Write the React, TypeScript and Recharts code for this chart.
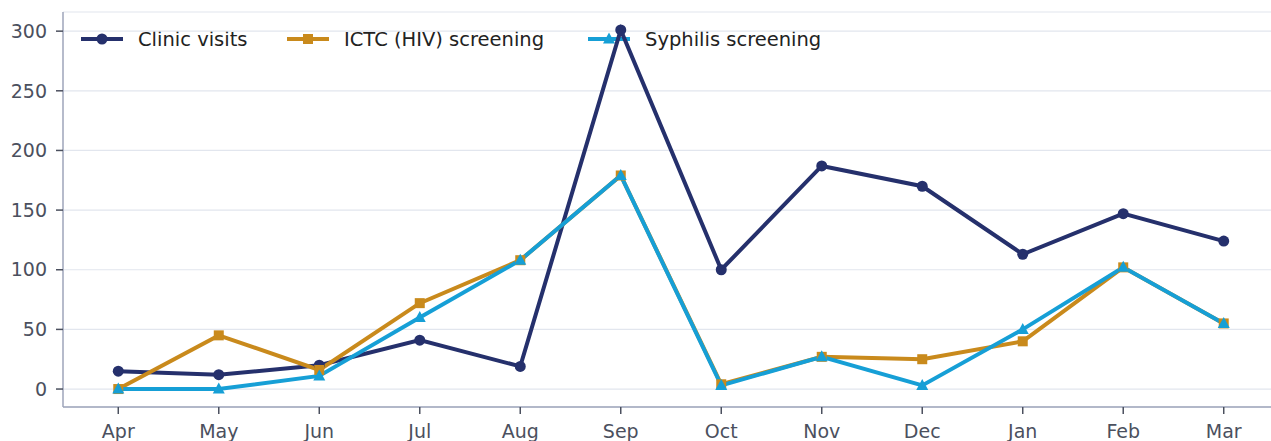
import { LineChart, Line, XAxis, YAxis, CartesianGrid } from 'recharts'

const months = ['Apr', 'May', 'Jun', 'Jul', 'Aug', 'Sep', 'Oct', 'Nov', 'Dec', 'Jan', 'Feb', 'Mar']
const clinicVisits = [15, 12, 20, 41, 19, 301, 100, 187, 170, 113, 147, 124]
const ictcScreening = [0, 45, 16, 72, 108, 179, 4, 27, 25, 40, 102, 55]
const syphilisScreening = [0, 0, 11, 60, 108, 179, 3, 27, 3, 50, 102, 55]
const yTicks = [0, 50, 100, 150, 200, 250, 300]

const data = months.map((m, i) => ({
  idx: i,
  month: m,
  clinic: clinicVisits[i],
  ictc: ictcScreening[i],
  syphilis: syphilisScreening[i],
}))

const NAVY = '#25306c'
const GOLD = '#c98a1c'
const CYAN = '#169fd6'
const FONT = '"DejaVu Sans", sans-serif'

type Shape = 'circle' | 'square' | 'triangle'

const Marker = ({ cx, cy, color, shape }: { cx: number; cy: number; color: string; shape: Shape }) => {
  if (cx == null || cy == null) return null
  if (shape === 'square') return <rect x={cx - 5} y={cy - 5} width={10} height={10} fill={color} />
  if (shape === 'triangle')
    return <polygon points={`${cx},${cy - 6.5} ${cx - 6},${cy + 4.5} ${cx + 6},${cy + 4.5}`} fill={color} />
  return <circle cx={cx} cy={cy} r={5.5} fill={color} />
}

const dotFor = (color: string, shape: Shape) => (props: any) => (
  <Marker key={`${shape}-${props.index}`} cx={props.cx} cy={props.cy} color={color} shape={shape} />
)

const legendItems: { name: string; color: string; shape: Shape; x: number }[] = [
  { name: 'Clinic visits', color: NAVY, shape: 'circle', x: 0 },
  { name: 'ICTC (HIV) screening', color: GOLD, shape: 'square', x: 206 },
  { name: 'Syphilis screening', color: CYAN, shape: 'triangle', x: 507 },
]

// drawn under the chart so the Sep point sits on top, like the original
const ChartLegend = () => (
  <svg width={800} height={30} style={{ position: 'absolute', left: 81, top: 25, overflow: 'visible' }}>
    {legendItems.map(it => (
      <g key={it.name} transform={`translate(${it.x},0)`}>
        <line x1={0} x2={42} y1={14} y2={14} stroke={it.color} strokeWidth={4} />
        <Marker cx={21} cy={14} color={it.color} shape={it.shape} />
        <text x={57} y={14} dy="0.35em" fontSize={19.5} fill="#222" fontFamily={FONT}>
          {it.name}
        </text>
      </g>
    ))}
  </svg>
)

export default function App() {
  return (
    <div style={{ position: 'absolute', left: 0, top: 0, width: 1271, height: 441, overflow: 'hidden', background: '#fff' }}>
      <ChartLegend />
      <div style={{ position: 'absolute', left: 0, top: 0 }}>
        <LineChart width={1300} height={470} data={data} margin={{ top: 12, right: 21, bottom: 0, left: 0 }}>
          <CartesianGrid horizontal vertical={false} stroke="#e2e6ee" strokeWidth={1.2} />
          <XAxis
            dataKey="idx"
            type="number"
            domain={[-0.55, 11.55]}
            ticks={months.map((_, i) => i)}
            tickFormatter={(v: number) => months[v]}
            height={63}
            tickSize={7}
            tickMargin={11}
            stroke="#9ea4ba"
            strokeWidth={1.5}
            tick={{ fill: '#4b505e', fontSize: 19, fontFamily: FONT }}
            tickLine={{ stroke: '#4b505e', strokeWidth: 1.5 }}
          />
          <YAxis
            type="number"
            domain={[-15.05, 316.05]}
            ticks={yTicks}
            width={63}
            tickSize={7}
            tickMargin={9}
            stroke="#9ea4ba"
            strokeWidth={1.5}
            tick={{ fill: '#4b505e', fontSize: 19, fontFamily: FONT }}
            tickLine={{ stroke: '#4b505e', strokeWidth: 1.5 }}
          />
          <Line
            dataKey="clinic"
            name="Clinic visits"
            stroke={NAVY}
            strokeWidth={4}
            dot={dotFor(NAVY, 'circle')}
            activeDot={false}
            isAnimationActive={false}
          />
          <Line
            dataKey="ictc"
            name="ICTC (HIV) screening"
            stroke={GOLD}
            strokeWidth={4}
            dot={dotFor(GOLD, 'square')}
            activeDot={false}
            isAnimationActive={false}
          />
          <Line
            dataKey="syphilis"
            name="Syphilis screening"
            stroke={CYAN}
            strokeWidth={4}
            dot={dotFor(CYAN, 'triangle')}
            activeDot={false}
            isAnimationActive={false}
          />
        </LineChart>
      </div>
    </div>
  )
}
